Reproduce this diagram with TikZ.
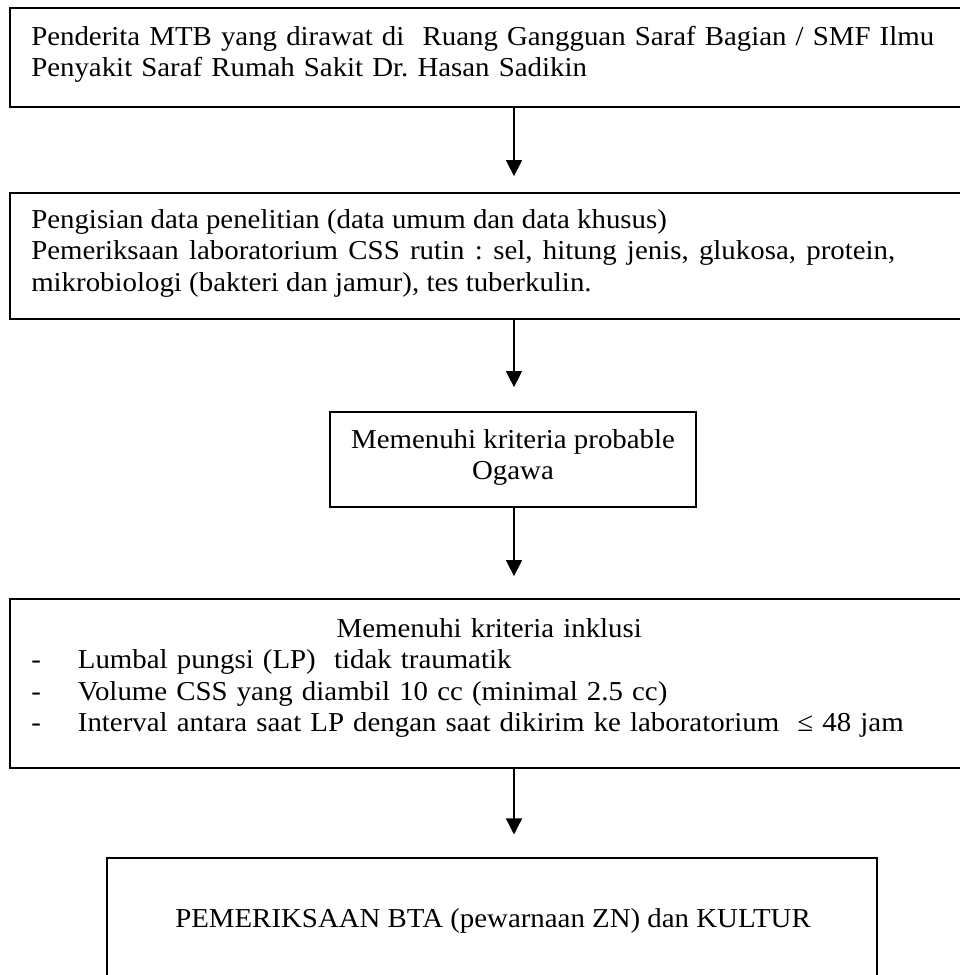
\documentclass[tikz,border=0pt]{standalone}
\usepackage{fontspec}
\setmainfont{Liberation Serif}[FakeStretch=1.056]
\usetikzlibrary{arrows.meta,fit}
\frenchspacing
\begin{document}
\begin{tikzpicture}[x=0.75pt,y=-0.75pt,
  box/.style={draw, line width=1.3pt, inner sep=0pt},
  txt/.style={inner sep=0pt, font=\fontsize{20.5}{23.6}\selectfont\frenchspacing},
  arr/.style={line width=1pt, -{Triangle[width=12pt,length=12pt]}}]
\useasboundingbox (0,0) rectangle (960,975);
\fill[white] (0,0) rectangle (960,975);
% boxes
\node[box, fit={(10,8) (975,107)}] (b1) {};
\node[box, fit={(10,193) (975,319)}] (b2) {};
\node[box, fit={(330,412) (696,507)}] (b3) {};
\node[box, fit={(10,599) (975,768)}] (b4) {};
\node[box, fit={(107,858) (877,980)}] (b5) {};
% texts
\node[txt, anchor=north west, text width=700pt, align=left] (t1) at (31,23)
  {\strut Penderita MTB yang dirawat di\ \ Ruang Gangguan Saraf Bagian / SMF Ilmu\\
   Penyakit Saraf Rumah Sakit Dr.\ Hasan Sadikin};
\node[txt, anchor=north west, text width=648pt, align=justify] (t2) at (31,206)
  {\strut Pengisian data penelitian (data umum dan data khusus)\\
   Pemeriksaan laboratorium CSS rutin : sel, hitung jenis, glukosa, protein,\linebreak
   mikrobiologi (bakteri dan jamur), tes tuberkulin.};
\node[txt, anchor=north, align=center] (t3) at (513,426)
  {\strut Memenuhi kriteria probable\\Ogawa};
\node[txt, anchor=north west, text width=687pt] (t4) at (31,615)
  {\parindent0pt\strut\hfil Memenuhi kriteria inklusi\hfil\par
   \noindent\makebox[35pt][l]{-}Lumbal pungsi (LP)\ \ tidak traumatik\par
   \noindent\makebox[35pt][l]{-}Volume CSS yang diambil 10 cc (minimal 2.5 cc)\par
   \noindent\makebox[35pt][l]{-}Interval antara saat LP dengan saat dikirim ke laboratorium\ \ ≤ 48 jam\par};
\node[txt, anchor=base west] (t5) at (175,927)
  {PEMERIKSAAN BTA (pewarnaan ZN) dan KULTUR};
% arrows
\coordinate (ax) at (514,0);
\draw[arr, shorten >=12pt] (b1.south -| ax) -- (b2.north -| ax);
\draw[arr, shorten >=18pt] (b2.south -| ax) -- (b3.north -| ax);
\draw[arr, shorten >=16.5pt] (b3.south -| ax) -- (b4.north -| ax);
\draw[arr, shorten >=17pt] (b4.south -| ax) -- (b5.north -| ax);
\end{tikzpicture}
\end{document}
